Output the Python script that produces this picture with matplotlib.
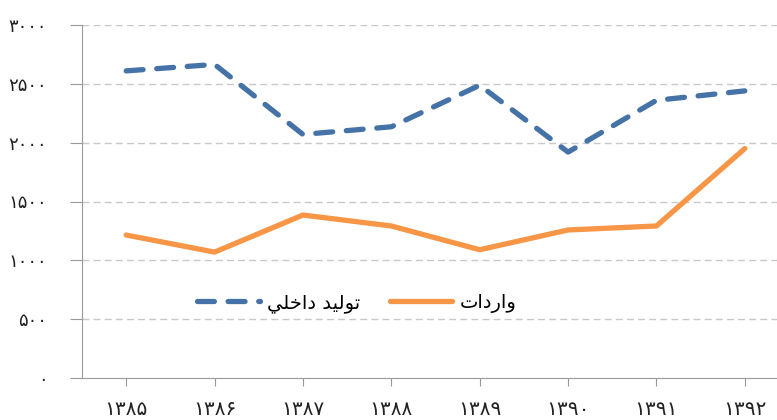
import matplotlib
matplotlib.use("Agg")
import matplotlib.pyplot as plt

years = ["۱۳۸۵", "۱۳۸۶", "۱۳۸۷", "۱۳۸۸", "۱۳۸۹", "۱۳۹۰", "۱۳۹۱", "۱۳۹۲"]
domestic = [2610, 2665, 2070, 2135, 2488, 1920, 2360, 2440]
imports = [1215, 1070, 1385, 1292, 1090, 1258, 1292, 1950]
yticks = [0, 500, 1000, 1500, 2000, 2500, 3000]
ytick_labels = ["۰", "۵۰۰", "۱۰۰۰", "۱۵۰۰", "۲۰۰۰", "۲۵۰۰", "۳۰۰۰"]
name_domestic = "تولید داخلی"
name_imports = "واردات"

# minimal Arabic shaping for display (matplotlib has no bidi/shaping)
FORMS = {
    "ا": ("\ufe8d", "\ufe8e", None, None),
    "ت": ("\ufe95", "\ufe96", "\ufe97", "\ufe98"),
    "خ": ("\ufea5", "\ufea6", "\ufea7", "\ufea8"),
    "د": ("\ufea9", "\ufeaa", None, None),
    "ر": ("\ufead", "\ufeae", None, None),
    "ل": ("\ufedd", "\ufede", "\ufedf", "\ufee0"),
    "و": ("\ufeed", "\ufeee", None, None),
    "ی": ("\ufef1", "\ufef2", "\ufef3", "\ufef4"),
    "ي": ("\ufef1", "\ufef2", "\ufef3", "\ufef4"),
}

def shape(s):
    out = []
    n = len(s)
    for i, ch in enumerate(s):
        if ch not in FORMS:
            out.append(ch)
            continue
        f = FORMS[ch]
        prev = s[i - 1] if i > 0 else None
        nxt = s[i + 1] if i < n - 1 else None
        jp = prev in FORMS and FORMS[prev][2] is not None
        jn = nxt in FORMS and f[2] is not None
        if jp and jn:
            out.append(f[3])
        elif jp:
            out.append(f[1])
        elif jn:
            out.append(f[2])
        else:
            out.append(f[0])
    return "".join(reversed(out))

plt.rcParams['font.family'] = ['DejaVu Sans']

fig = plt.figure(figsize=(7.77, 4.2), dpi=100)
W, H = 777, 420
left, right, top, bottom = 82, 789, 25, 378
ax = fig.add_axes([left / W, (H - bottom) / H, (right - left) / W, (bottom - top) / H])

x = list(range(len(years)))
ax.plot(x, domestic, color="#4572A7", lw=3.8, linestyle=(0, (3.2, 2.6)),
        dash_capstyle="round", solid_capstyle="round", label=shape(name_domestic))
ax.plot(x, imports, color="#F79646", lw=3.8, solid_capstyle="round",
        label=shape(name_imports))

ax.set_xlim(-0.5, 7.5)
ax.set_ylim(0, 3000)
ax.set_yticks(yticks)
ax.set_yticklabels(ytick_labels, fontsize=13, color="#222222")
ax.set_xticks(x)
ax.set_xticklabels(years, fontsize=14.5, color="#222222")
ax.tick_params(axis="y", length=9, width=0.8, color="#999999", pad=16)
ax.tick_params(axis="x", length=6, width=0.8, color="#999999", pad=10)

for v in yticks[1:]:
    ax.axhline(v, color="#C8C8C8", lw=1.0, linestyle=(0, (5, 3)), zorder=0)

for s in ["top", "right"]:
    ax.spines[s].set_visible(False)
ax.spines["left"].set_color("#999999")
ax.spines["bottom"].set_color("#999999")

leg = ax.legend(loc="center", bbox_to_anchor=((357 - left) / (right - left), (bottom - 303) / (bottom - top)),
                ncol=2, frameon=False, fontsize=14, handlelength=3.2, columnspacing=1.5,
                handletextpad=0.4)

fig.savefig("out.png", dpi=100)
